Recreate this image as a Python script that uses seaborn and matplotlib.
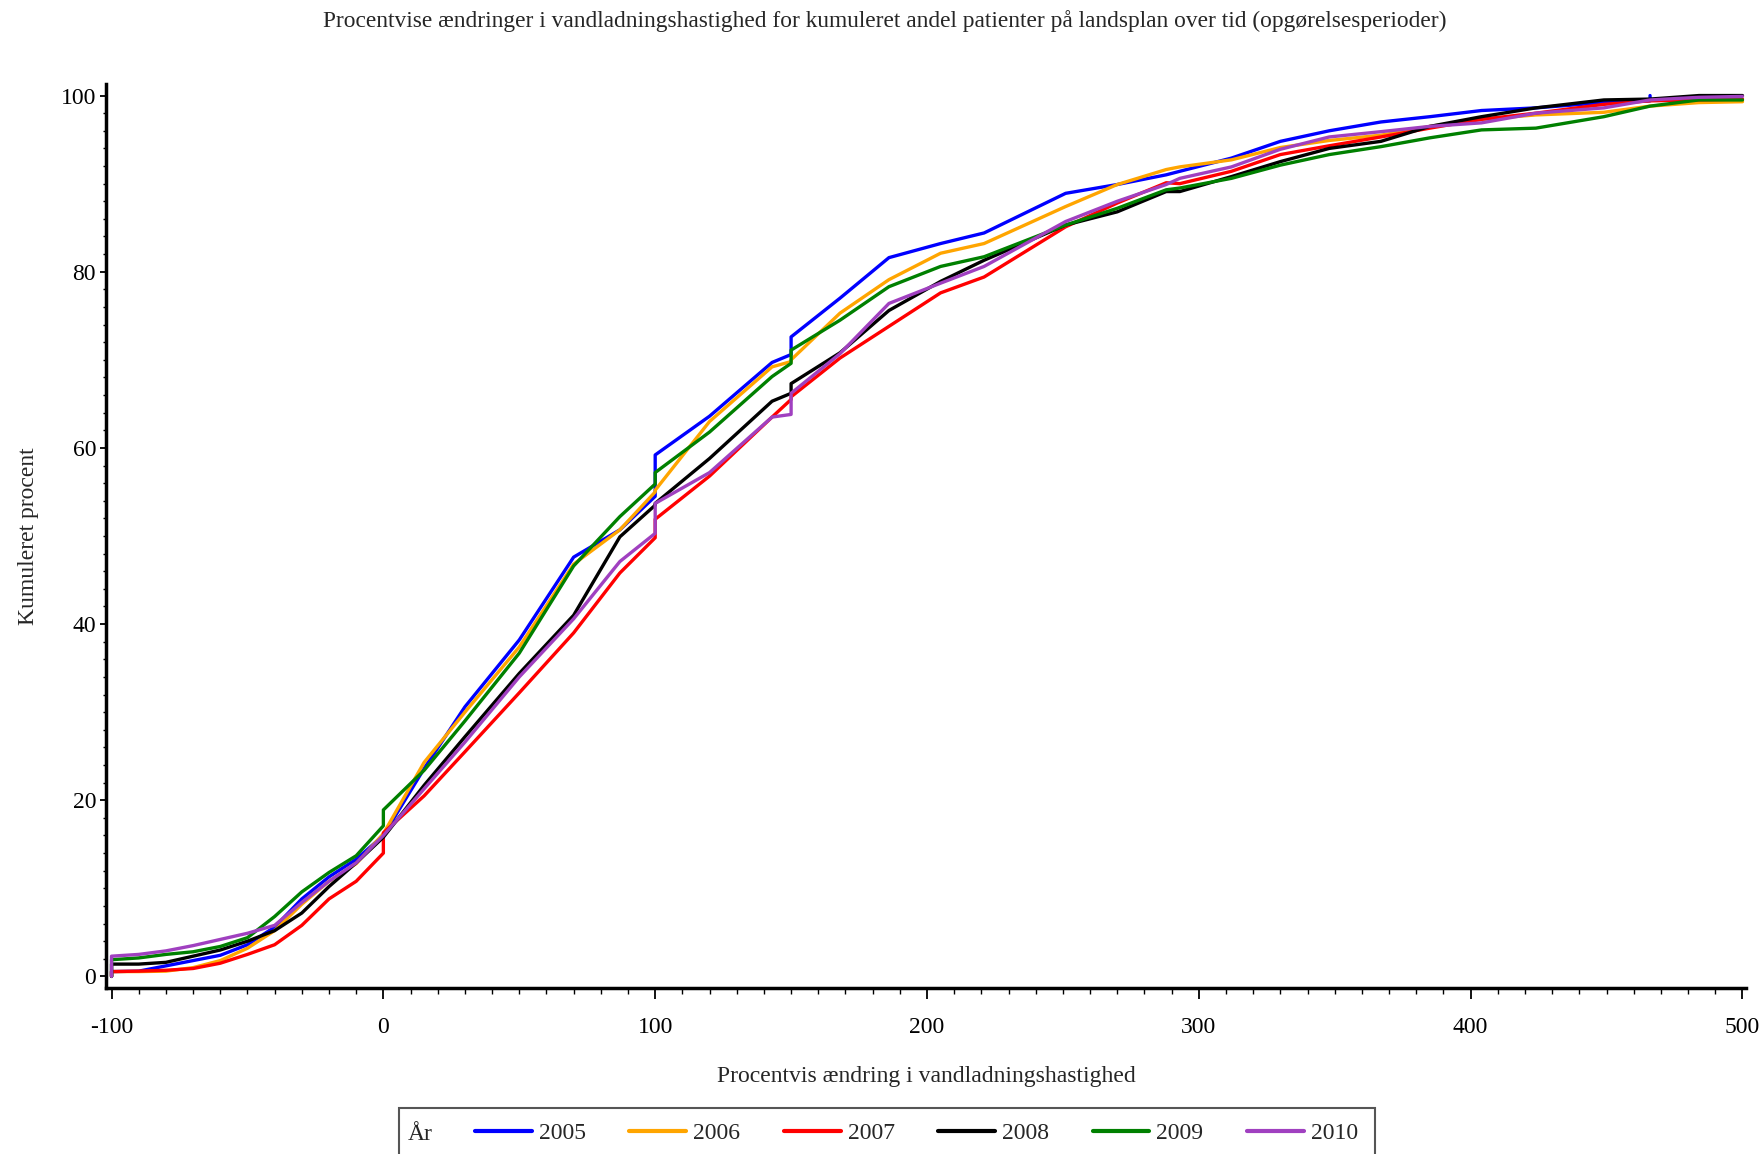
import numpy as np
import pandas as pd
import matplotlib
matplotlib.use("Agg")
import matplotlib.pyplot as plt
from matplotlib.ticker import MultipleLocator
from matplotlib.lines import Line2D
from matplotlib.patches import Rectangle
import seaborn as sns

# procentvis aendring (x) - repeated values mark vertical jumps in the curves
pct_change = [-100, -100, -90, -80, -70, -60, -50, -40, -30, -20, -10, 0, 0,
              15, 30, 50, 70, 87, 100, 100, 120, 143, 150, 150, 168, 186,
              205, 221, 251, 270, 288, 293, 312, 330, 348, 367, 385, 404,
              424, 449, 466, 466, 484, 500]

cum_2005 = [0, 0.55, 0.6, 1.2, 1.8, 2.4, 3.6, 5.6, 8.8, 11.3, 13.3, 16.0, 16.0,
            23.6, 30.6, 38.2, 47.6, 50.7, 54.5, 59.2, 63.6, 69.7, 70.6, 72.6,
            77.0, 81.6, 83.2, 84.4, 88.9, 89.9, 91.0, 91.4, 92.9, 94.8, 96.0,
            97.0, 97.6, 98.3, 98.6, 99.2, 99.4, 100, np.nan, np.nan]
cum_2006 = [0, 0.55, 0.55, 0.6, 1.0, 1.8, 3.2, 5.2, 8.2, 10.8, 12.8, 16.2, 16.2,
            24.3, 30.0, 37.4, 46.8, 50.7, 55.0, 55.2, 63.0, 69.2, 69.8, 70.0,
            75.3, 79.1, 82.1, 83.2, 87.4, 89.9, 91.6, 91.9, 92.7, 94.1, 94.9,
            95.5, 96.5, 97.3, 97.8, 98.1, 98.8, 98.8, 99.2, 99.3]
cum_2007 = [0, 0.55, 0.6, 0.7, 0.9, 1.5, 2.5, 3.6, 5.8, 8.8, 10.8, 14.0, 16.3,
            20.5, 25.5, 32.2, 39.0, 45.8, 49.8, 51.9, 56.8, 63.5, 65.5, 65.8,
            70.2, 73.8, 77.6, 79.4, 85.1, 87.8, 90.1, 90.0, 91.4, 93.3, 94.3,
            95.3, 96.3, 97.3, 98.0, 99.0, 99.4, 99.4, 99.5, 99.6]
cum_2008 = [0, 1.4, 1.4, 1.6, 2.3, 3.0, 4.0, 5.2, 7.2, 10.2, 12.9, 15.8, 15.8,
            21.7, 27.2, 34.4, 41.0, 49.9, 53.5, 53.7, 58.8, 65.3, 66.2, 67.3,
            70.8, 75.6, 78.9, 81.3, 85.3, 86.8, 89.1, 89.1, 90.8, 92.5, 94.0,
            94.8, 96.5, 97.6, 98.6, 99.5, 99.6, 99.6, 100, 100]
cum_2009 = [0, 1.9, 2.1, 2.5, 2.8, 3.4, 4.4, 6.8, 9.6, 11.8, 13.7, 17.1, 18.9,
            23.4, 29.0, 36.7, 46.6, 52.2, 55.9, 57.2, 61.8, 68.1, 69.6, 71.1,
            74.5, 78.3, 80.6, 81.7, 85.3, 87.2, 89.3, 89.5, 90.6, 92.1, 93.3,
            94.2, 95.2, 96.1, 96.3, 97.6, 98.8, 98.8, 99.5, 99.5]
cum_2010 = [0, 2.3, 2.5, 2.9, 3.5, 4.2, 4.9, 5.8, 8.4, 10.8, 12.9, 16.0, 16.0,
            21.3, 26.6, 34.0, 40.6, 47.1, 50.3, 53.7, 57.2, 63.5, 63.8, 66.2,
            70.7, 76.4, 78.7, 80.6, 85.7, 88.0, 89.9, 90.6, 91.9, 93.9, 95.3,
            95.9, 96.5, 96.9, 98.0, 98.6, 99.5, 99.5, 99.8, 99.9]

years = ["2005", "2006", "2007", "2008", "2009", "2010"]
series = [cum_2005, cum_2006, cum_2007, cum_2008, cum_2009, cum_2010]
colors = ["#0000FF", "#FFA500", "#FF0000", "#000000", "#008000", "#A040C0"]

frames = []
for yr, vals in zip(years, series):
    frames.append(pd.DataFrame({"x": pct_change, "y": vals, "aar": yr}))
df = pd.concat(frames, ignore_index=True).dropna()

sns.set_theme(style="white")
plt.rcParams["font.family"] = ["Liberation Serif", "DejaVu Serif"]
plt.rcParams["axes.unicode_minus"] = False

FS = 17

fig = plt.figure(figsize=(17.64, 11.54), dpi=100)
ax = fig.add_axes([0.0600, 0.1441, 0.9298, 0.7828])

sns.lineplot(data=df, x="x", y="y", hue="aar", palette=dict(zip(years, colors)),
             estimator=None, sort=False, linewidth=2.4, legend=False, ax=ax)

ax.set_xlim(-102.1, 501.3)
ax.set_ylim(-1.28, 101.27)
ax.xaxis.set_major_locator(MultipleLocator(100))
ax.xaxis.set_minor_locator(MultipleLocator(10))
ax.yaxis.set_major_locator(MultipleLocator(20))
ax.yaxis.set_minor_locator(MultipleLocator(2))

for side in ["top", "right"]:
    ax.spines[side].set_visible(False)
for side in ["left", "bottom"]:
    ax.spines[side].set_linewidth(2.5)
    ax.spines[side].set_color("black")

ax.tick_params(axis="x", which="major", direction="out", length=8, width=1.3,
               colors="black", labelsize=FS, pad=13, bottom=True)
ax.tick_params(axis="x", which="minor", direction="out", length=4.5, width=1.0,
               colors="black", bottom=True)
ax.tick_params(axis="y", which="major", direction="out", length=4, width=1.3,
               colors="black", labelsize=FS, pad=3, left=True)
ax.tick_params(axis="y", which="minor", direction="out", length=2.2, width=1.0,
               colors="black", left=True)

ax.set_xlabel("Procentvis ændring i vandladningshastighed", fontsize=FS, labelpad=20)
ax.set_ylabel("Kumuleret procent", fontsize=FS, labelpad=16)
ax.grid(False)

fig.text(0.5017, 0.982, "Procentvise ændringer i vandladningshastighed for kumuleret "
         "andel patienter på landsplan over tid (opgørelsesperioder)",
         ha="center", va="center", fontsize=16.8)

# legend box along the bottom
box = Rectangle((399 / 1764, -0.02), (1375 - 399) / 1764, 0.02 + (1154 - 1108) / 1154,
                transform=fig.transFigure, fill=False, edgecolor="#555555",
                linewidth=1.5, clip_on=False)
fig.add_artist(box)
fig.text(408 / 1764, 1 - 1134 / 1154, "År", ha="left", va="center", fontsize=FS)
handles = [Line2D([], [], color=c, linewidth=3) for c in colors]
fig.legend(handles, years, loc="center left", bbox_to_anchor=(475 / 1764, 1 - 1133 / 1154),
           ncol=6, frameon=False, fontsize=FS, handlelength=2.4, handletextpad=0.3,
           columnspacing=1.85, borderpad=0, borderaxespad=0)

fig.savefig("out.png", dpi=100)
